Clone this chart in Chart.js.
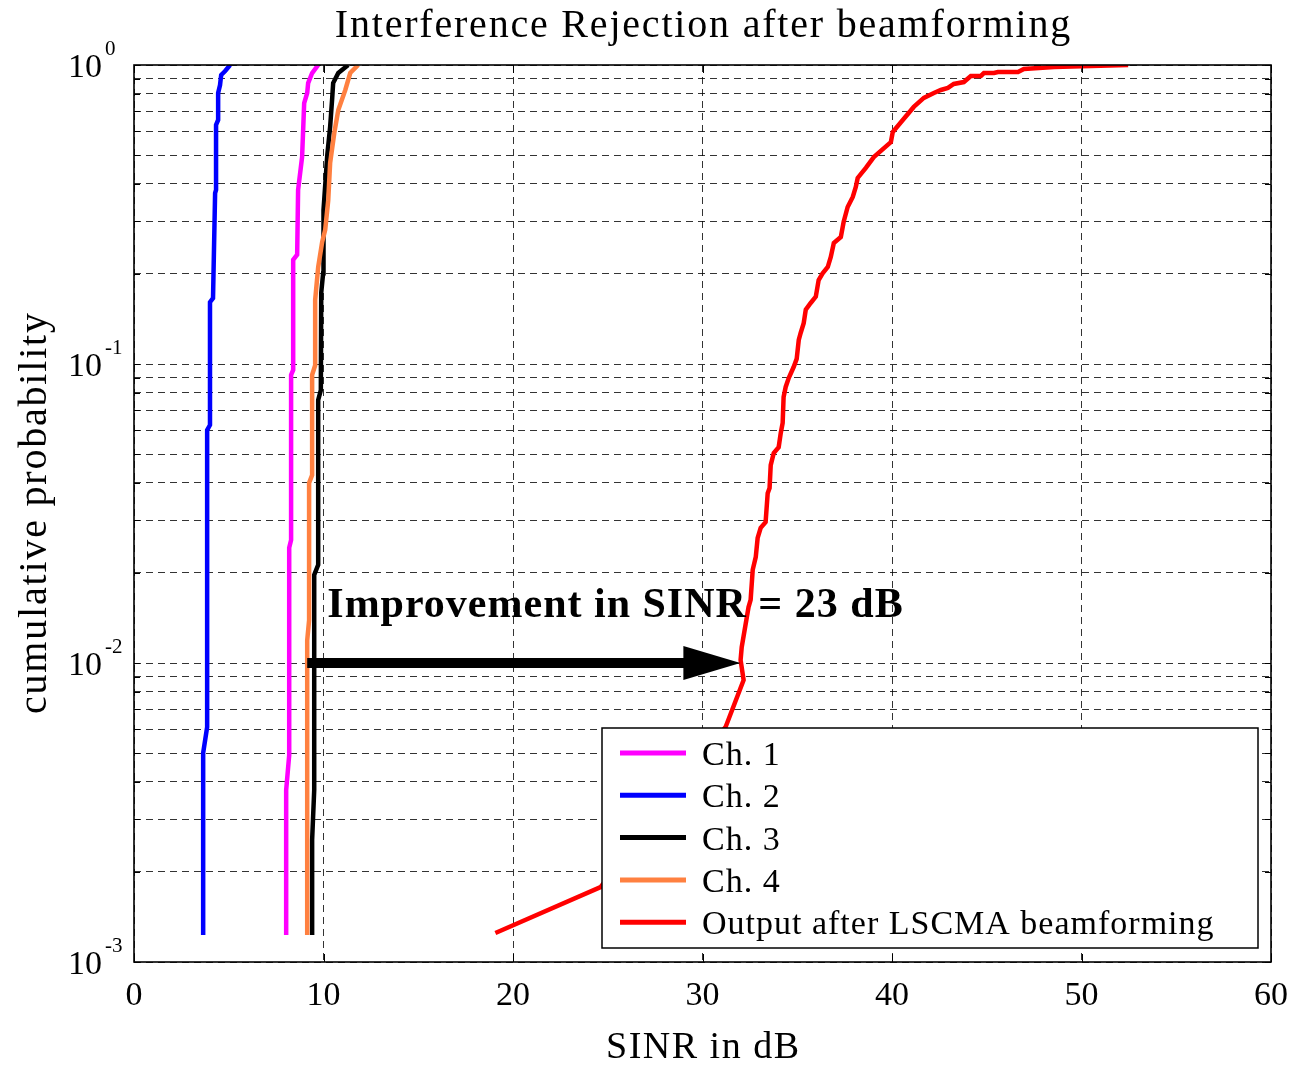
<!DOCTYPE html>
<html>
<head>
<meta charset="utf-8">
<title>Interference Rejection after beamforming</title>
<script src="https://cdn.jsdelivr.net/npm/chart.js@4.4.1/dist/chart.umd.min.js"></script>
<style>
  html, body { margin: 0; padding: 0; background: #ffffff; }
  #wrap { width: 1292px; height: 1065px; }
</style>
</head>
<body>
<div id="wrap"><canvas id="cdf" width="1292" height="1065"></canvas></div>
<script>
// Empirical CDFs of SINR (dB) per channel and after LSCMA beamforming
const seriesNames = ['Ch. 1', 'Ch. 2', 'Ch. 3', 'Ch. 4', 'Output after LSCMA beamforming'];

const ch1Sinr = [8.03, 8.03, 8.19, 8.19, 8.29, 8.29, 8.40, 8.40, 8.61, 8.66, 8.87, 8.93, 8.98, 9.14, 9.19, 9.40, 9.72];
const ch1Prob = [0.00123, 0.00376, 0.00492, 0.0243, 0.0258, 0.0919, 0.0955, 0.223, 0.232, 0.382, 0.492, 0.615, 0.746, 0.806, 0.87, 0.94, 1.0];

const ch2Sinr = [3.65, 3.65, 3.86, 3.86, 4.01, 4.01, 4.17, 4.28, 4.33, 4.33, 4.44, 4.44, 4.54, 4.60, 4.81, 5.07];
const ch2Prob = [0.00123, 0.0050, 0.0061, 0.0601, 0.0625, 0.161, 0.166, 0.373, 0.382, 0.630, 0.655, 0.806, 0.857, 0.926, 0.955, 1.0];

const ch3Sinr = [9.40, 9.40, 9.51, 9.51, 9.72, 9.72, 9.86, 9.88, 9.98, 10.0, 10.2, 10.35, 10.46, 10.51, 10.78, 11.3];
const ch3Prob = [0.00123, 0.00256, 0.00376, 0.0197, 0.0213, 0.0758, 0.0818, 0.173, 0.201, 0.327, 0.50, 0.621, 0.776, 0.87, 0.94, 1.0];

const ch4Sinr = [9.14, 9.14, 9.24, 9.24, 9.40, 9.40, 9.56, 9.56, 9.72, 9.93, 10.09, 10.25, 10.35, 10.57, 10.78, 11.15, 11.41, 11.83];
const ch4Prob = [0.00123, 0.0119, 0.0139, 0.040, 0.0425, 0.092, 0.099, 0.164, 0.211, 0.256, 0.281, 0.353, 0.47, 0.593, 0.707, 0.825, 0.94, 1.0];

const outSinr = [19.07, 24.62, 31.22, 32.17, 32.01, 32.07, 32.43, 32.54, 32.65, 32.81, 32.91, 33.07, 33.33, 33.44, 33.54, 33.60,
  33.76, 34.02, 34.13, 34.23, 34.28, 34.39, 34.55, 34.81, 34.97, 35.08, 35.18, 35.34, 35.45, 35.71, 35.98, 36.13,
  36.34, 36.61, 36.77, 36.93, 37.30, 37.45, 37.66, 37.93, 38.09, 38.19, 38.62, 39.04, 39.94, 40.04, 40.57, 41.15,
  41.68, 42.21, 42.58, 42.95, 43.26, 43.79, 44.16, 44.69, 44.85, 45.38, 45.59, 46.65, 46.96, 48.55, 52.46];
const outProb = [0.00125, 0.00178, 0.00611, 0.00877, 0.01023, 0.0113, 0.01538, 0.01625, 0.0205, 0.0226, 0.0262, 0.0283, 0.0296, 0.0370, 0.0385, 0.0459,
  0.0504, 0.0527, 0.0588, 0.0635, 0.0776, 0.0838, 0.0898, 0.0977, 0.104, 0.1203, 0.127, 0.137, 0.152, 0.160, 0.168, 0.191,
  0.201, 0.211, 0.228, 0.254, 0.266, 0.299, 0.335, 0.362, 0.391, 0.419, 0.453, 0.492, 0.552, 0.597, 0.655, 0.724,
  0.776, 0.806, 0.825, 0.838, 0.864, 0.877, 0.919, 0.919, 0.94, 0.94, 0.947, 0.947, 0.97, 0.985, 1.0];

// Axis ticks
const xTicks = [0, 10, 20, 30, 40, 50, 60];
const yDecades = [0, -1, -2, -3];

// Annotation: SINR gain measured at the 1% level
const gainText = 'Improvement in SINR = 23 dB';
const gainLevel = 0.01;
const gainFrom = 9.14;
const gainTo = 32.0;
const gainTextAt = { x: 10.2, y: 0.0142 };

const toPoints = (xs, ps) => xs.map((x, i) => ({ x: x, y: ps[i] }));

const SERIF = "'Liberation Serif', 'Times New Roman', serif";

// all grid values of the log axis: 1..9 x 10^k
const yGridValues = [];
for (let e = -3; e <= 0; e++) {
  for (let m = 1; m <= 9; m++) {
    const v = m * Math.pow(10, e);
    if (v <= 1.0000001) yGridValues.push(parseFloat(v.toPrecision(3)));
  }
}

function drawText(ctx, s, x, y, font, align, spacing) {
  ctx.save();
  ctx.font = font;
  ctx.letterSpacing = (spacing || 0) + 'px';
  ctx.textAlign = align;
  ctx.textBaseline = 'alphabetic';
  ctx.fillStyle = '#000000';
  let dx = 0;
  if (spacing) {
    if (align === 'center') dx = spacing / 2;
    else if (align === 'right') dx = spacing;
  }
  ctx.fillText(s, x + dx, y);
  ctx.restore();
}

const decor = {
  id: 'decor',
  afterDatasetsDraw(chart) {
    const ctx = chart.ctx;
    const xs = chart.scales.x, ys = chart.scales.y;
    // arrow
    const y0 = ys.getPixelForValue(gainLevel);
    const x0 = xs.getPixelForValue(gainFrom);
    const x1 = xs.getPixelForValue(gainTo);
    const headLen = 57, headHalf = 17;
    ctx.save();
    ctx.fillStyle = '#000000';
    ctx.fillRect(x0, y0 - 5, (x1 - headLen) - x0 + 1, 10);
    ctx.beginPath();
    ctx.moveTo(x1, y0);
    ctx.lineTo(x1 - headLen, y0 - headHalf);
    ctx.lineTo(x1 - headLen, y0 + headHalf);
    ctx.closePath();
    ctx.fill();
    ctx.restore();
    drawText(ctx, gainText, xs.getPixelForValue(gainTextAt.x), ys.getPixelForValue(gainTextAt.y),
      'bold 42px ' + SERIF, 'left', 1);
  },
  afterDraw(chart) {
    const ctx = chart.ctx;
    const a = chart.chartArea;
    const xs = chart.scales.x, ys = chart.scales.y;

    // inward tick marks
    ctx.save();
    ctx.strokeStyle = '#000000';
    ctx.lineWidth = 1;
    ctx.beginPath();
    xTicks.forEach(v => {
      const px = Math.round(xs.getPixelForValue(v)) + 0.5;
      ctx.moveTo(px, a.bottom); ctx.lineTo(px, a.bottom - 8);
      ctx.moveTo(px, a.top); ctx.lineTo(px, a.top + 8);
    });
    yGridValues.forEach(v => {
      const py = Math.round(ys.getPixelForValue(v)) + 0.5;
      ctx.moveTo(a.left, py); ctx.lineTo(a.left + 6, py);
      ctx.moveTo(a.right, py); ctx.lineTo(a.right - 6, py);
    });
    ctx.stroke();
    // axes box
    ctx.lineWidth = 1.6;
    ctx.strokeRect(a.left, a.top, a.right - a.left, a.bottom - a.top);
    ctx.restore();

    // x tick labels
    xTicks.forEach(v => {
      drawText(ctx, String(v), xs.getPixelForValue(v), a.bottom + 43, '34px ' + SERIF, 'center', 0);
    });
    // y tick labels 10^k
    ctx.save();
    ctx.font = '34px ' + SERIF;
    const w10 = ctx.measureText('10').width;
    ctx.restore();
    yDecades.forEach(e => {
      const py = ys.getPixelForValue(Math.pow(10, e));
      const bx = a.left - 66;
      drawText(ctx, '10', bx, py + 12, '34px ' + SERIF, 'left', 0);
      drawText(ctx, e < 0 ? '-' + Math.abs(e) : String(e), bx + w10 + 3, py - 10, '21px ' + SERIF, 'left', 0);
    });

    // titles
    const cx = (a.left + a.right) / 2;
    drawText(ctx, 'Interference Rejection after beamforming', cx, 37, '40px ' + SERIF, 'center', 1.8);
    drawText(ctx, 'SINR in dB', cx, a.bottom + 96, '38px ' + SERIF, 'center', 1.5);
    ctx.save();
    ctx.translate(46, (a.top + a.bottom) / 2);
    ctx.rotate(-Math.PI / 2);
    drawText(ctx, 'cumulative probability', 0, 0, '40px ' + SERIF, 'center', 1.8);
    ctx.restore();

    // legend box
    const bw = 656, bh = 220;
    const bx = a.right - 13 - bw, by = a.bottom - 14 - bh;
    ctx.save();
    ctx.fillStyle = '#ffffff';
    ctx.fillRect(bx, by, bw, bh);
    ctx.strokeStyle = '#000000';
    ctx.lineWidth = 1.5;
    ctx.strokeRect(bx, by, bw, bh);
    chart.data.datasets.forEach((ds, i) => {
      const ry = by + 25 + i * 42.3;
      ctx.strokeStyle = ds.borderColor;
      ctx.lineWidth = 5;
      ctx.beginPath();
      ctx.moveTo(bx + 18, ry); ctx.lineTo(bx + 84, ry);
      ctx.stroke();
      drawText(ctx, ds.label, bx + 100, ry + 12, '34px ' + SERIF, 'left', 1);
    });
    ctx.restore();
  }
};

const lineStyle = (color, order) => ({ borderColor: color, backgroundColor: color, borderWidth: 4.5, pointRadius: 0, tension: 0, fill: false, order: order });

new Chart(document.getElementById('cdf').getContext('2d'), {
  type: 'line',
  data: {
    datasets: [
      Object.assign({ label: seriesNames[0], data: toPoints(ch1Sinr, ch1Prob) }, lineStyle('#ff00ff', 4)),
      Object.assign({ label: seriesNames[1], data: toPoints(ch2Sinr, ch2Prob) }, lineStyle('#0000ff', 3)),
      Object.assign({ label: seriesNames[2], data: toPoints(ch3Sinr, ch3Prob) }, lineStyle('#000000', 2)),
      Object.assign({ label: seriesNames[3], data: toPoints(ch4Sinr, ch4Prob) }, lineStyle('#ff8040', 1)),
      Object.assign({ label: seriesNames[4], data: toPoints(outSinr, outProb) }, lineStyle('#ff0000', 0))
    ]
  },
  options: {
    responsive: false,
    animation: false,
    devicePixelRatio: 1,
    layout: { padding: { left: 134, top: 65, right: 21, bottom: 103 } },
    plugins: { legend: { display: false }, tooltip: { enabled: false }, title: { display: false } },
    scales: {
      x: {
        type: 'linear', min: 0, max: 60,
        ticks: { display: false, stepSize: 10 },
        grid: { color: 'rgba(0,0,0,0.8)', lineWidth: 1, drawTicks: false },
        border: { display: false, dash: [7, 5] }
      },
      y: {
        type: 'logarithmic', min: 0.001, max: 1,
        afterBuildTicks: s => { s.ticks = yGridValues.map(v => ({ value: v })); },
        ticks: { display: false },
        grid: { color: 'rgba(0,0,0,0.8)', lineWidth: 1, drawTicks: false },
        border: { display: false, dash: [7, 5] }
      }
    }
  },
  plugins: [decor]
});
</script>
</body>
</html>
